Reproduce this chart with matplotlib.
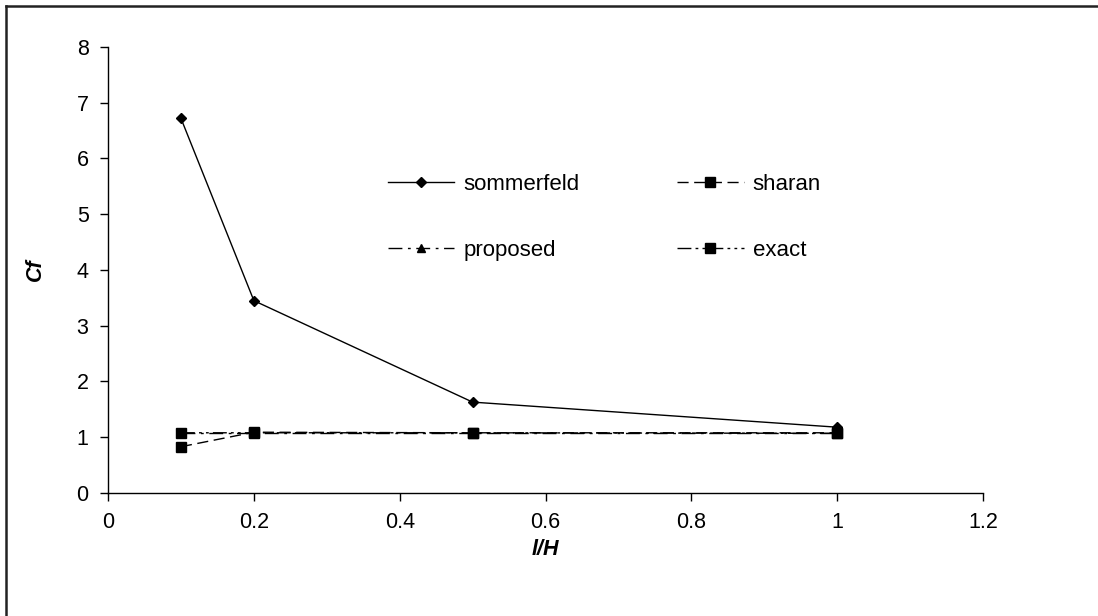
import matplotlib.pyplot as plt
from matplotlib.lines import Line2D

plt.rcParams['font.family'] = ['Liberation Sans', 'DejaVu Sans']

# data
lh = [0.1, 0.2, 0.5, 1.0]
sommerfeld = [6.72, 3.45, 1.63, 1.18]
sharan = [0.83, 1.09, 1.08, 1.08]
proposed = [1.08, 1.08, 1.08, 1.08]
exact = [1.08, 1.08, 1.08, 1.07]

x_ticks = [0, 0.2, 0.4, 0.6, 0.8, 1.0, 1.2]
x_labels = ['0', '0.2', '0.4', '0.6', '0.8', '1', '1.2']
y_ticks = [0, 1, 2, 3, 4, 5, 6, 7, 8]

fig = plt.figure(figsize=(10.98, 6.16), dpi=100)
ax = fig.add_axes([0.0984, 0.1997, 0.7969, 0.724])

# outer chart-area frame (only top/left inside the cropped picture)
fig.add_artist(Line2D([0.0055, 0.0055], [0, 0.9903], color='#222222', lw=1.8, transform=fig.transFigure))
fig.add_artist(Line2D([0.0055, 1.0], [0.9903, 0.9903], color='#222222', lw=1.8, transform=fig.transFigure))

h1, = ax.plot(lh, sommerfeld, color='black', lw=1, marker='D', ms=5, label='sommerfeld')
h2, = ax.plot(lh, sharan, color='black', lw=1, ls=(0, (8, 4)), marker='s', ms=7, label='sharan')
h3, = ax.plot(lh, proposed, color='black', lw=1, ls=(0, (10, 4, 2, 4)), marker='^', ms=6, label='proposed')
h4, = ax.plot(lh, exact, color='black', lw=1, ls=(0, (10, 3, 2, 3, 2, 3)), marker='s', ms=7, label='exact')

ax.set_xlim(0, 1.2)
ax.set_ylim(0, 8)
ax.set_xticks(x_ticks)
ax.set_xticklabels(x_labels)
ax.set_yticks(y_ticks)
ax.tick_params(direction='out', length=6, width=1, labelsize=15.5, pad=8)
for s in ['top', 'right']:
    ax.spines[s].set_visible(False)
for s in ['left', 'bottom']:
    ax.spines[s].set_linewidth(1)

ax.set_xlabel('l/H', fontsize=15.5, fontweight='bold', style='italic', labelpad=4)
ax.set_ylabel('Cf', fontsize=15.5, fontweight='bold', style='italic', labelpad=22)

# row-wise order like the original: sommerfeld, sharan / proposed, exact
ax.legend([h1, h3, h2, h4], ['sommerfeld', 'proposed', 'sharan', 'exact'],
          ncol=2, loc='center', bbox_to_anchor=(0.567, 0.618), frameon=False,
          fontsize=16, handlelength=3, columnspacing=4.4, labelspacing=2.0,
          handletextpad=0.4)

plt.savefig('out.png', dpi=100)
plt.close()
